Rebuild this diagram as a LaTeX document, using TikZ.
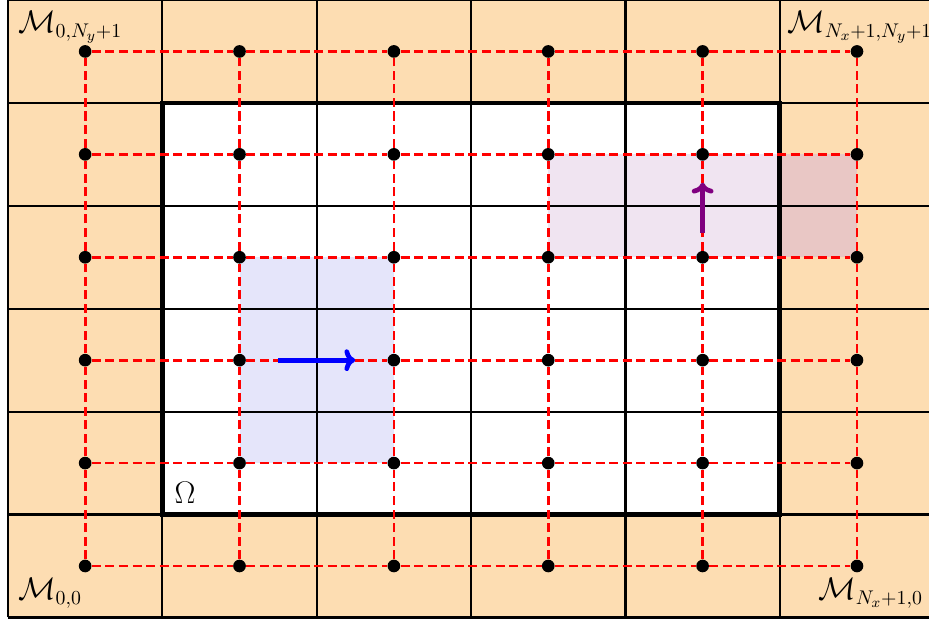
\documentclass[tikz,border=0pt]{standalone}
\usetikzlibrary{arrows.meta}
\definecolor{orangebg}{RGB}{253,221,178}
\definecolor{bluebg}{RGB}{229,229,250}
\definecolor{purpbg}{RGB}{240,228,241}
\definecolor{pinkbg}{RGB}{233,199,197}
\definecolor{arrowpurple}{RGB}{128,0,128}
\begin{document}
\begin{tikzpicture}[
  gridline/.style={line width=1.2pt},
  domainline/.style={line width=2.6pt},
  meshline/.style={red, line width=1.5pt, dash pattern=on 5pt off 2.5pt},
  dot/.style={circle, fill=black, inner sep=0pt, minimum size=7pt},
  lbl/.style={inner sep=0pt, anchor=base west, font=\fontsize{16}{18}\selectfont},
  flowarrow/.style={line width=2.6pt, -{To[length=6pt,width=12pt]}}
]
\useasboundingbox (-0.155,-0.07) rectangle (17.9,12.0);
% backgrounds
\fill[orangebg] (0,0) rectangle (18,12);
\fill[white] (3,2) rectangle (15,10);
\fill[bluebg] (4.5,3) rectangle (7.5,7);
\fill[purpbg] (10.5,7) rectangle (15,9);
\fill[pinkbg] (15,7) rectangle (16.5,9);
% cells
\draw[gridline] (0,0) grid[xstep=3,ystep=2] (18,12);
\draw[domainline] (3,2) rectangle (15,10);
% mesh points
\foreach \i in {0,...,5}{
  \foreach \j in {0,...,5}{
    \node[dot] (d\i\j) at ({1.5+3*\i},{1+2*\j}) {};
  }
}
% dashed mesh connectors
\foreach \i in {0,...,4}{
  \pgfmathtruncatemacro{\k}{\i+1}
  \foreach \j in {0,...,5}{
    \draw[meshline] (d\i\j) -- (d\k\j);
    \draw[meshline] (d\j\i) -- (d\j\k);
  }
}
% arrows
\coordinate (ba) at (5.25,5);
\coordinate (bb) at (6.75,5);
\coordinate (pa) at (13.5,7.47);
\coordinate (pb) at (13.5,8.45);
\draw[flowarrow, blue] (ba) -- (bb);
\draw[flowarrow, arrowpurple] (pa) -- (pb);
% labels
\node[lbl] (omega) at (3.23,2.21) {$\Omega$};
\node[lbl] (mtl) at (0.19,11.37) {$\mathcal{M}_{0,N_y+1}$};
\node[lbl] (mtr) at (15.14,11.37) {$\mathcal{M}_{N_x+1,N_y+1}$};
\node[lbl] (mbl) at (0.19,0.35) {$\mathcal{M}_{0,0}$};
\node[lbl] (mbr) at (15.74,0.35) {$\mathcal{M}_{N_x+1,0}$};
\end{tikzpicture}
\end{document}
